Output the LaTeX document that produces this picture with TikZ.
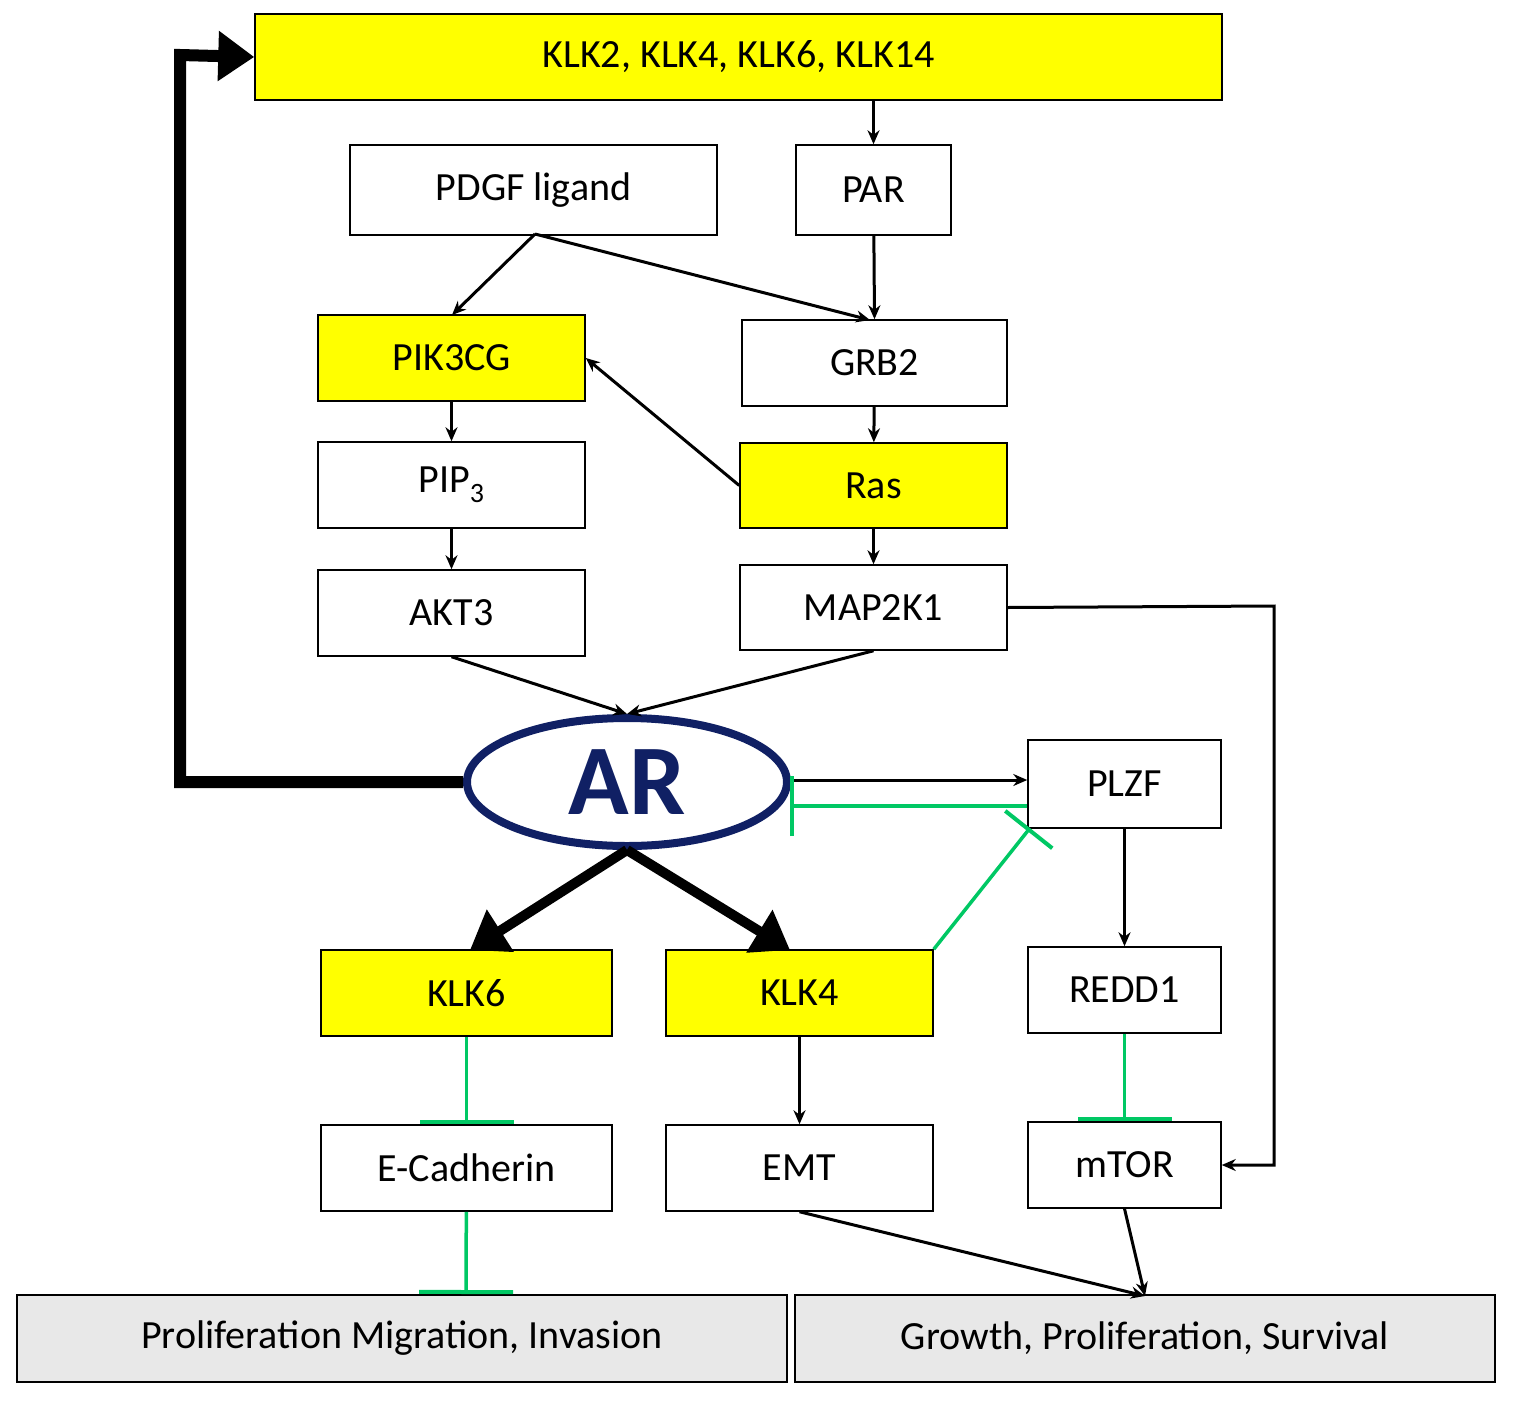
\documentclass[tikz,border=0pt]{standalone}
\usepackage{fontspec}
\setmainfont{Carlito}
\usetikzlibrary{arrows.meta,shapes.geometric}
\definecolor{navy}{RGB}{16,32,100}
\definecolor{grn}{RGB}{0,200,100}
\definecolor{yel}{RGB}{255,255,0}
\definecolor{gr}{RGB}{232,232,232}
\begin{document}
\begin{tikzpicture}[x=1pt,y=-1pt,
 box/.style={draw,line width=1.5pt,fill=white,font=\fontsize{40}{46}\selectfont},
 ybox/.style={box,fill=yel},
 gbox/.style={box,fill=gr,line width=2pt},
 ar/.style={-{Stealth[length=14pt,width=12pt]},line width=3pt},
 big/.style={-{Triangle[length=36pt,width=48pt]},line width=12pt},
 inh/.style={-{Bar[width=60pt,line width=4pt]},line width=3.5pt,draw=grn}]
\useasboundingbox (0,0) rectangle (1514,1405);
\node[ybox,minimum width=967,minimum height=86,inner sep=0] (top) at (738.5,57) {KLK2, KLK4, KLK6, KLK14};
\node[box,minimum width=367,minimum height=90,inner sep=0] (pdgf) at (533.5,190) {PDGF ligand};
\node[box,minimum width=155,minimum height=90,inner sep=0] (par) at (873.5,190) {PAR};
\node[ybox,minimum width=267,minimum height=86,inner sep=0] (pik) at (451.5,358) {PIK3CG};
\node[box,minimum width=265,minimum height=86,inner sep=0] (grb) at (874.5,363) {GRB2};
\node[box,minimum width=267,minimum height=86,inner sep=0] (pip) at (451.5,485) {PIP\textsubscript{3}};
\node[ybox,minimum width=267,minimum height=85,inner sep=0] (ras) at (873.5,485.5) {Ras};
\node[box,minimum width=267,minimum height=86,inner sep=0] (akt) at (451.5,613) {AKT3};
\node[box,minimum width=267,minimum height=85,inner sep=0] (map) at (873.5,607.5) {MAP2K1};
\node[draw=navy,line width=8pt,ellipse,minimum width=320,minimum height=128,inner sep=0,text=navy,font=\fontsize{100}{100}\selectfont\bfseries] (AR) at (627,782) {AR};
\node[box,minimum width=193,minimum height=88,inner sep=0] (plzf) at (1124.5,784) {PLZF};
\node[ybox,minimum width=291,minimum height=86,inner sep=0] (k6) at (466.5,993) {KLK6};
\node[ybox,minimum width=267,minimum height=86,inner sep=0] (k4) at (799.5,993) {KLK4};
\node[box,minimum width=193,minimum height=86,inner sep=0] (redd) at (1124.5,990) {REDD1};
\node[box,minimum width=291,minimum height=86,inner sep=0] (ecad) at (466.5,1168) {E-Cadherin};
\node[box,minimum width=267,minimum height=86,inner sep=0] (emt) at (799.5,1168) {EMT};
\node[box,minimum width=193,minimum height=86,inner sep=0] (mtor) at (1124.5,1165) {mTOR};
\node[gbox,minimum width=770,minimum height=87,inner sep=0] (pmi) at (402,1338.5) {Proliferation Migration, Invasion};
\node[gbox,minimum width=700,minimum height=87,inner sep=0] (gps) at (1145,1338.5) {Growth, Proliferation, Survival};
\coordinate (pd) at (535,234);
\draw[ar] (top.south -| par) -- (par);
\draw[ar] (pd) -- (452,315);
\draw[ar] (pd) -- (870,320);
\draw[ar] (par) -- (grb.north);
\draw[ar] (ras.west) -- (pik.east);
\draw[ar] (pik) -- (pip);
\draw[ar] (pip) -- (akt);
\draw[ar] (grb) -- (ras);
\draw[ar] (ras) -- (map);
\coordinate (arT) at (627,714);
\draw[ar] (akt.south) -- (arT);
\draw[ar] (map.south) -- (arT);
\draw[ar] (map.east) -- (1274,606) -- (1274,1165) -- (mtor.east);
\draw[big] (AR.west) -- (180,782) -- (180,55) -- (top.west);
\draw[ar] (790,780) -- (plzf.west |- 0,780);
\draw[inh] (plzf.west |- 0,806) -- (790,806);
\draw[inh] (k4.north east) -- (1030,828);
\draw[big,line width=10pt] (AR.south) -- (470,950);
\draw[big,line width=10pt] (AR.south) -- (790,950);
\draw[ar] (plzf) -- (redd);
\draw[inh,-{Bar[width=94pt,line width=4pt]}] (k6) -- (ecad.north);
\draw[inh,-{Bar[width=94pt,line width=4pt]}] (ecad) -- (466,1294);
\draw[inh,-{Bar[width=94pt,line width=4pt]}] (redd) -- (mtor.north);
\draw[ar] (k4) -- (emt);
\coordinate (gp) at (1145,1296);
\draw[ar] (emt.south) -- (gp);
\draw[ar] (mtor.south) -- (gp);
\end{tikzpicture}
\end{document}
